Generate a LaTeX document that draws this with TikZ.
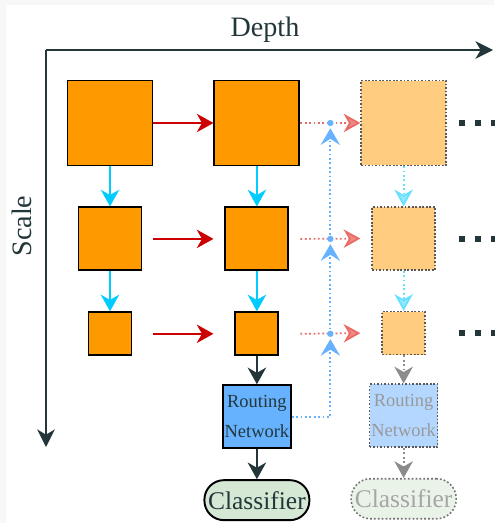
\documentclass[tikz,border=0pt]{standalone}
\usepackage{fontspec}
\setmainfont{Liberation Serif}
\usetikzlibrary{positioning,arrows.meta,calc}

\definecolor{slate}{HTML}{23373B}
\definecolor{blockorange}{HTML}{FF9900}
\definecolor{paleorange}{HTML}{FFCC80}
\definecolor{routeblue}{HTML}{66B2FF}
\definecolor{paleblue}{HTML}{B3D7FF}
\definecolor{scalecyan}{HTML}{00CCFF}
\definecolor{palecyan}{HTML}{66E0FF}
\definecolor{depthred}{HTML}{CC0000}
\definecolor{palered}{HTML}{EA6B66}
\definecolor{clsgreen}{HTML}{D5E8D4}
\definecolor{paleclsgreen}{HTML}{E9F3E8}

\begin{document}
\begin{tikzpicture}[
  x=0.02cm, y=-0.02cm,
  node distance=0.8cm and 1.2cm,
  tip/.style={-{Stealth[length=9.5pt,width=10.5pt,inset=3pt]}},
  block/.style={draw=black,line width=1.1pt,fill=blockorange,inner sep=0pt,minimum size=#1},
  ghost/.style={draw=black!65,line width=0.9pt,dash pattern=on 1pt off 1pt,fill=paleorange,inner sep=0pt,minimum size=#1},
  router/.style={draw=black,line width=1.1pt,fill=routeblue,text=slate,inner sep=0pt,
    minimum width=1.36cm,minimum height=1.26cm,align=center,font=\fontsize{10.5}{17}\selectfont},
  ghostrouter/.style={router,draw=black!65,line width=0.9pt,dash pattern=on 1pt off 1pt,fill=paleblue,text=black!40},
  classifier/.style={draw=black,line width=1.1pt,fill=clsgreen,text=slate,rounded corners=0.39cm,inner sep=0pt,
    minimum width=2.1cm,minimum height=0.8cm,font=\fontsize{14.5}{17}\selectfont},
  ghostclassifier/.style={classifier,draw=black!55,line width=0.9pt,dash pattern=on 1pt off 1.2pt,fill=paleclsgreen,text=black!35},
  axis/.style={draw=slate,line width=1.1pt,-{Stealth[length=10pt,width=10pt,inset=3pt]}},
  depthflow/.style={draw=depthred,line width=1pt,-{Stealth[length=9.5pt,width=10.5pt,inset=3pt,fill=depthred]}},
  ghostdepth/.style={draw=palered,line width=1pt,dash pattern=on 1pt off 1.5pt,
    -{Stealth[length=9.5pt,width=10.5pt,inset=3pt,fill=palered!80]}},
  scaleflow/.style={draw=scalecyan,line width=1.1pt,tip},
  ghostscale/.style={draw=palecyan,line width=1pt,dash pattern=on 1pt off 1.5pt,
    -{Stealth[length=9.5pt,width=10.5pt,inset=3pt,fill=palecyan!70]}},
  route/.style={draw=routeblue,line width=1pt,dash pattern=on 1pt off 1.5pt,
    -{Stealth[length=9.5pt,width=11pt,inset=3.5pt]}},
  flow/.style={draw=slate,line width=1.3pt,tip},
  ghostflow/.style={draw=black!45,line width=1pt,dash pattern=on 1pt off 1.5pt,
    -{Stealth[length=9.5pt,width=10.5pt,inset=3pt]}},
  ellipsis/.style={draw=slate,line width=3.4pt,dash pattern=on 3.4pt off 5.7pt}
  ]
  % background
  \fill[black!3] (0,0) rectangle (494,523);
  \fill[white] (6,5) rectangle (494,523);
  \useasboundingbox (0,0) rectangle (494,523);

  % axes
  \coordinate (origin) at (46,50);
  \coordinate (depthend) at (493,50);
  \coordinate (scaleend) at (46,447);
  \draw[axis] (origin) -- (depthend);
  \draw[axis] (origin) -- (scaleend);
  \node[text=slate,font=\fontsize{16}{19}\selectfont] (depth) at (265,30) {Depth};
  \node[text=slate,font=\fontsize{16}{19}\selectfont,rotate=90] (scale) at (22,226) {Scale};

  % first column
  \node[block=1.7cm] (a1) at (110,123) {};
  \node[block=1.26cm,below=of a1] (a2) {};
  \node[block=0.86cm,below=of a2] (a3) {};

  % second column
  \node[block=1.7cm,right=of a1] (b1) {};
  \node[block=1.26cm,below=of b1] (b2) {};
  \node[block=0.86cm,below=of b2] (b3) {};

  % third column (skipped)
  \node[ghost=1.7cm,right=of b1] (c1) {};
  \node[ghost=1.26cm,below=of c1] (c2) {};
  \node[ghost=0.86cm,below=of c2] (c3) {};

  % routing and classifiers
  \node[router,below=0.56cm of b3] (rn) {Routing\\Network};
  \node[classifier,below=0.6cm of rn] (cls) {Classifier};
  \node[ghostrouter,below=0.56cm of c3] (rn2) {Routing\\Network};
  \node[ghostclassifier,below=0.6cm of rn2] (cls2) {Classifier};

  % along depth
  \path (a1) edge[depthflow] (b1)
        (a2 -| a1.east) edge[depthflow] (b2 -| b1.west)
        (a3 -| a1.east) edge[depthflow] (b3 -| b1.west);
  \path (b1) edge[ghostdepth] (c1)
        (b2 -| b1.east) edge[ghostdepth] (c2 -| c1.west)
        (b3 -| b1.east) edge[ghostdepth] (c3 -| c1.west);

  % along scale
  \path (a1) edge[scaleflow] (a2)
        (a2) edge[scaleflow] (a3)
        (b1) edge[scaleflow] (b2)
        (b2) edge[scaleflow] (b3);
  \path (c1) edge[ghostscale] (c2)
        (c2) edge[ghostscale] (c3);

  \path (b3) edge[flow] (rn)
        (rn) edge[flow] (cls);
  \path (c3) edge[ghostflow] (rn2)
        (rn2) edge[ghostflow] (cls2);

  % routing decisions
  \coordinate (j1) at ($(b1.east)!0.5!(c1.west)$);
  \coordinate (j2) at (j1 |- b2);
  \coordinate (j3) at (j1 |- b3);
  \draw[route,shorten >=3pt] (rn.east) -| (j3);
  \draw[route,shorten >=3pt] (j3) -- (j2);
  \draw[route,shorten >=3pt] (j2) -- (j1);
  \foreach \j in {j1,j2,j3}
    \fill[routeblue] (\j) circle (1.8pt);

  % more stages
  \coordinate (more) at ($(c1.east)+(12,0)$);
  \foreach \r in {c1,c2,c3}
    \draw[ellipsis] (more |- \r) -- ++(40,0);
\end{tikzpicture}
\end{document}
